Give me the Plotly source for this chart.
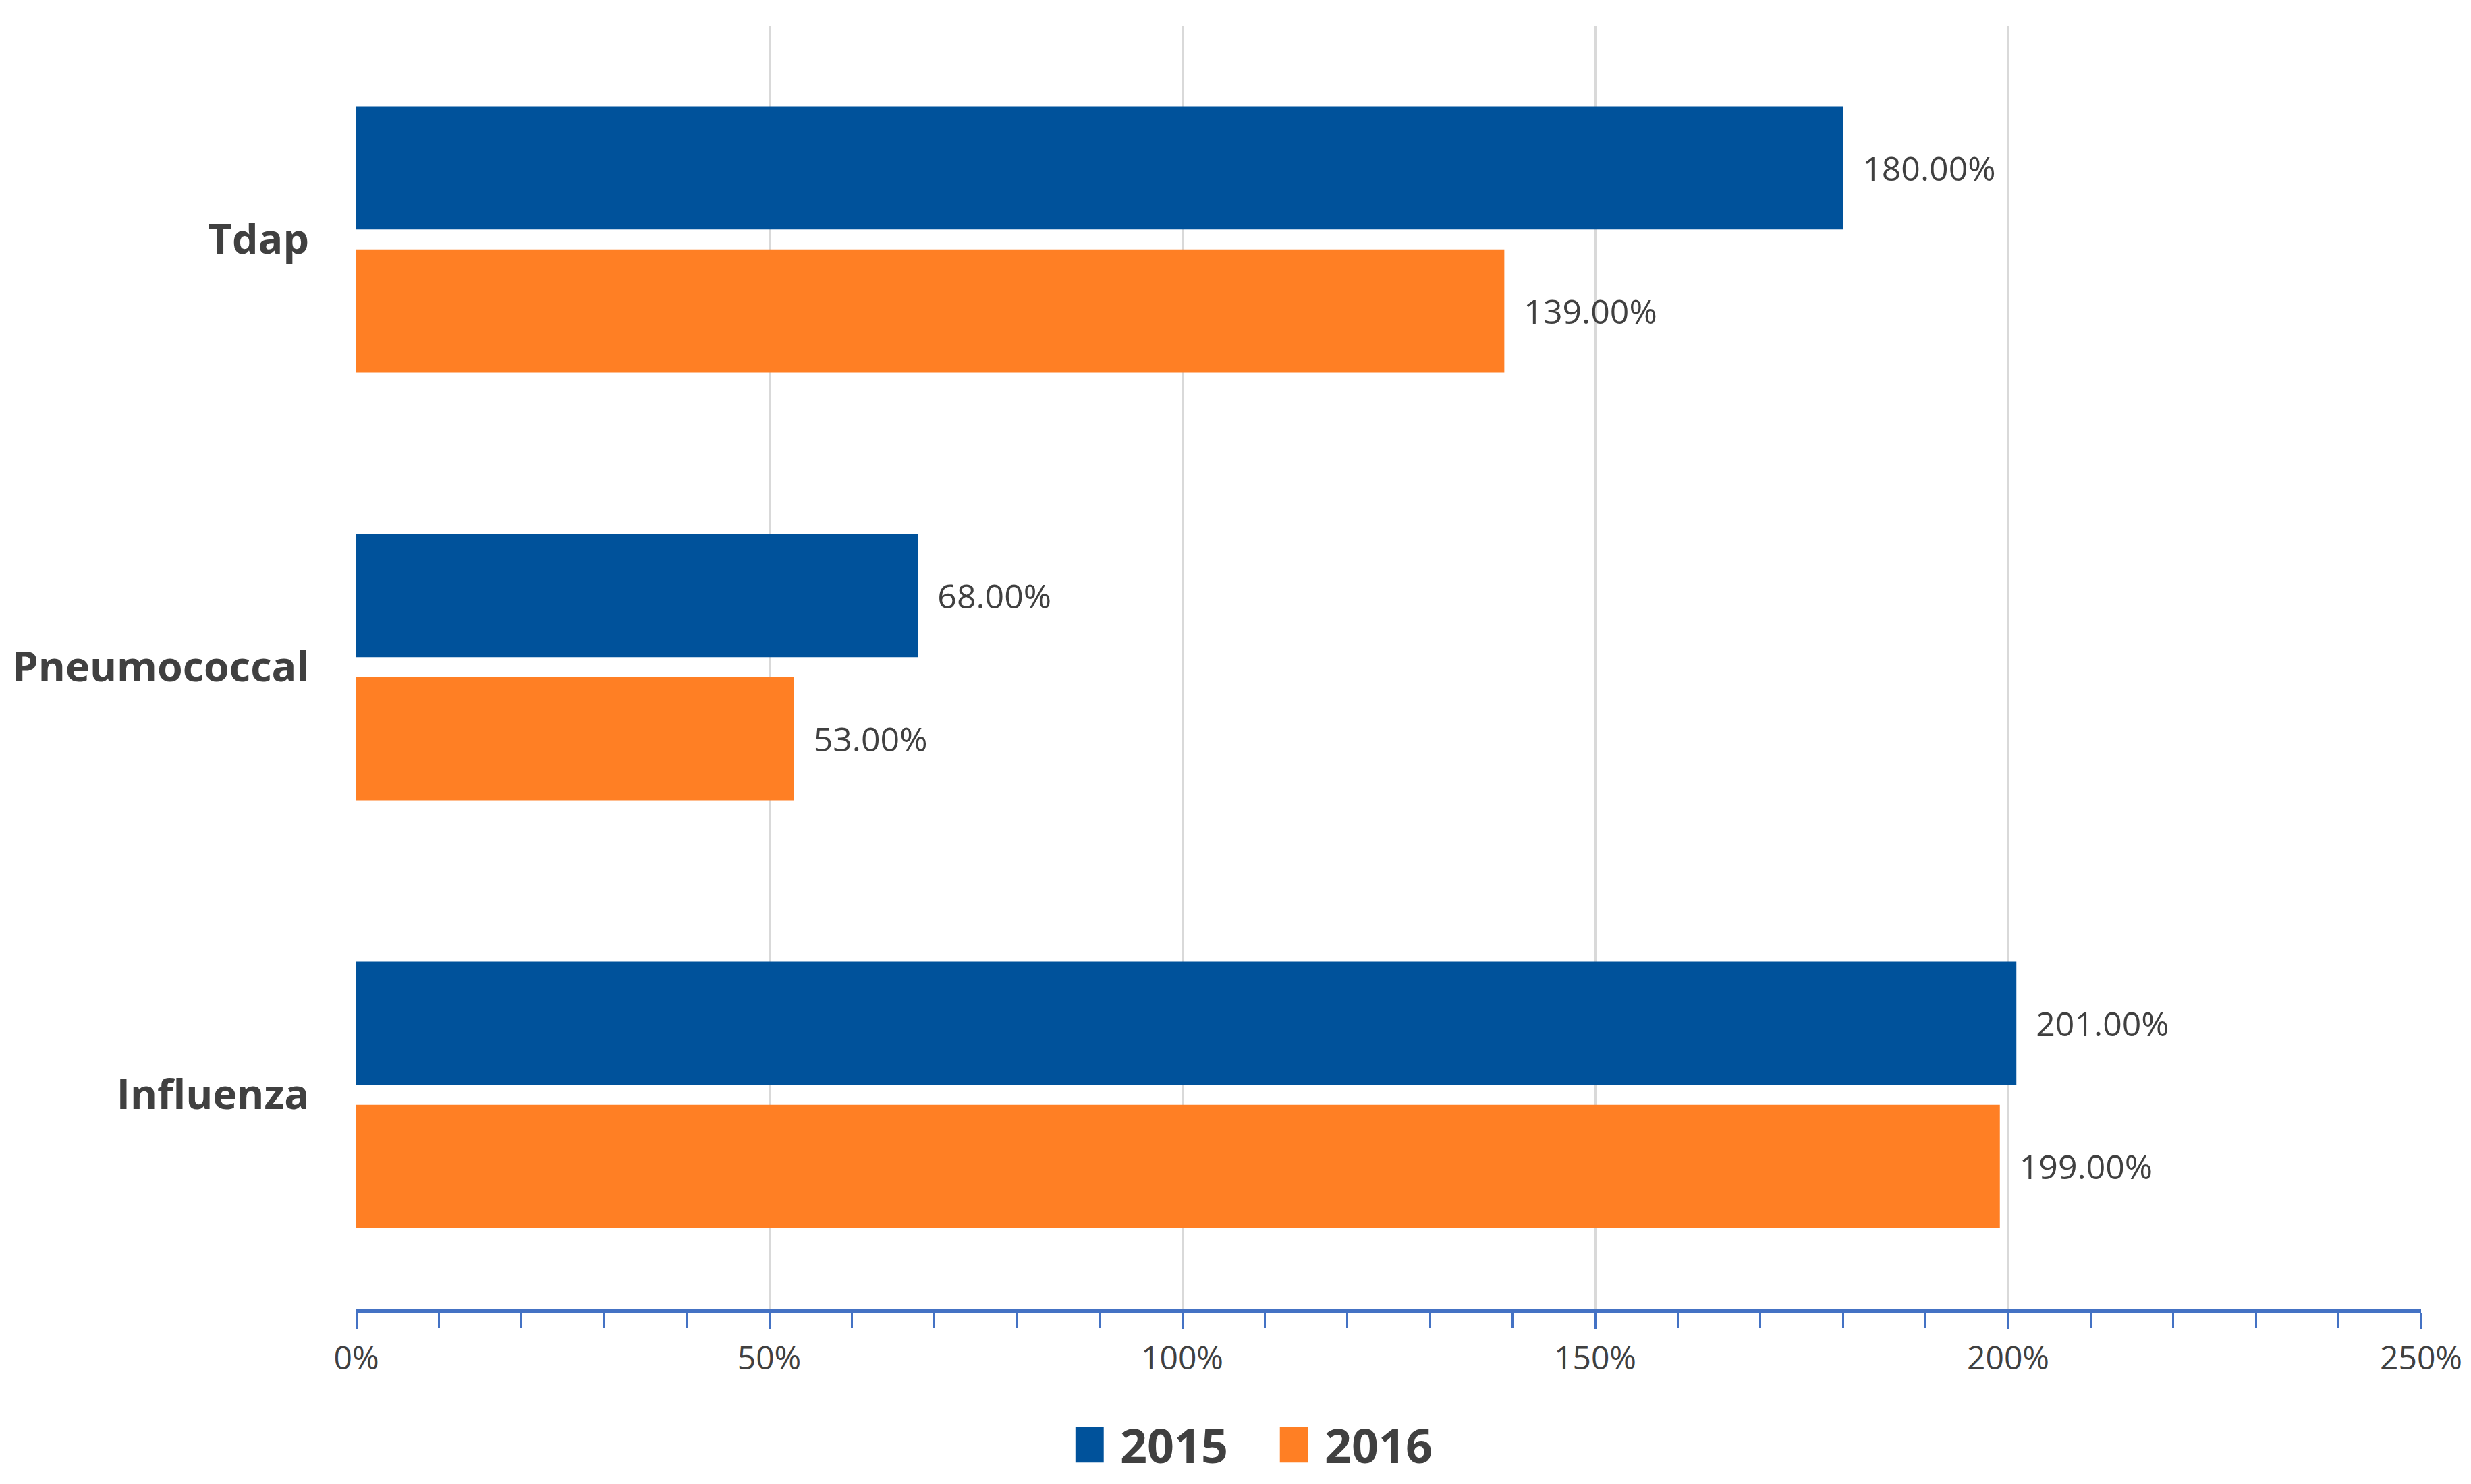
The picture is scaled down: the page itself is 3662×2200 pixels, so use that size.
import plotly.graph_objects as go

vaccines = ["Tdap", "Pneumococcal", "Influenza"]
years = ["2015", "2016"]
rate_2015 = [180, 68, 201]
rate_2016 = [139, 53, 199]
x_ticks = [0, 50, 100, 150, 200, 250]
x_labels = ["0%", "50%", "100%", "150%", "200%", "250%"]

colors = {"2015": "#00529B", "2016": "#FF7F24"}
txt = "#404040"
font = "Open Sans"

fig = go.Figure()
for yr, vals in zip(years, [rate_2015, rate_2016]):
    fig.add_trace(go.Bar(
        y=vaccines, x=vals, name=yr, orientation="h",
        marker=dict(color=colors[yr], line=dict(width=0)),
        texttemplate="\u00a0\u00a0%{x:.2f}%", textposition="outside",
        textfont=dict(family=font, size=50, color=txt),
        cliponaxis=False, showlegend=False,
    ))

fig.update_layout(
    width=3662, height=2200,
    paper_bgcolor="white", plot_bgcolor="white",
    barmode="group", bargap=0.33, bargroupgap=0.14,
    margin=dict(l=520, r=82, t=30, b=268),
    font=dict(family=font, color=txt),
    xaxis=dict(
        range=[0, 250], tickvals=x_ticks, ticktext=x_labels,
        showgrid=True, gridcolor="#D9D9D9", gridwidth=3,
        showline=True, linecolor="#4472C4", linewidth=6,
        ticks="outside", ticklen=24, tickwidth=3, tickcolor="#4472C4",
        minor=dict(dtick=10, ticks="outside", ticklen=22, tickwidth=3,
                   tickcolor="#4472C4", showgrid=False),
        tickfont=dict(family=font, size=48, color=txt),
        ticklabelstandoff=2, zeroline=False, automargin=False,
    ),
    yaxis=dict(
        autorange="reversed", showgrid=False, showline=False,
        tickfont=dict(family=font, size=61, color=txt, weight="bold"),
        ticklabelstandoff=69, automargin=False,
    ),
)

# legend drawn by hand so the swatches can be large
leg_x = [0.3483, 0.4473]
for i, yr in enumerate(years):
    x0 = leg_x[i]
    fig.add_shape(type="rect", xref="paper", yref="paper",
                  x0=x0, x1=x0 + 0.0137, y0=-0.092, y1=-0.120,
                  fillcolor=colors[yr], line=dict(width=0))
    fig.add_annotation(x=x0 + 0.021, y=-0.106, xref="paper", yref="paper",
                       text="<b>" + yr + "</b>", showarrow=False,
                       xanchor="left", yanchor="middle",
                       font=dict(family=font, size=70, color=txt))

fig.write_html("out.html")
